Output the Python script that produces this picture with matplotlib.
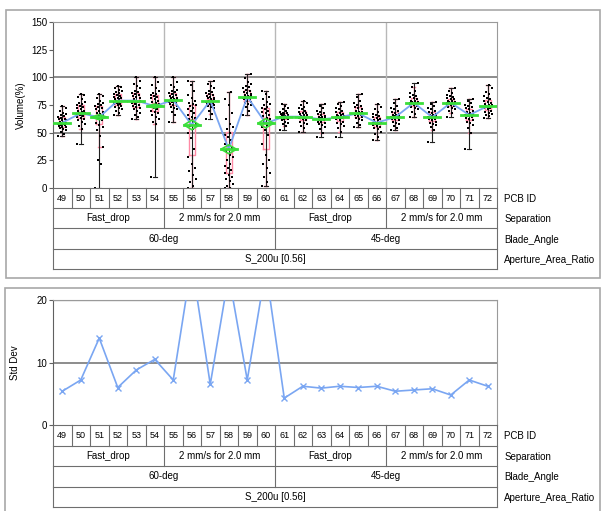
import numpy as np
import matplotlib.pyplot as plt
from matplotlib.patches import Rectangle, Polygon

plt.rcParams['font.family'] = ['Liberation Sans', 'DejaVu Sans']

# Facteurs de la carte de variabilité
pcb_ids = list(range(49, 73))
separation = ['Fast_drop', '2 mm/s for 2.0 mm', 'Fast_drop', '2 mm/s for 2.0 mm']
blade_angle = ['60-deg', '45-deg']
aperture = ['S_200u [0.56]']
row_names = ['PCB ID', 'Separation', 'Blade_Angle', 'Aperture_Area_Ratio']

# Moyennes par PCB (lignes vertes) et écarts-types (graphe du bas)
cell_means = [59, 67.5, 64, 79, 79, 74, 79.5, 57, 79, 35, 82.5, 58.5,
              64.5, 64.5, 62, 64, 67.5, 59, 64, 77, 64, 77, 66, 74]
std_dev = [5.4, 7.2, 13.9, 6.0, 8.8, 10.5, 7.2, 26, 6.5, 24, 7.2, 25,
           4.3, 6.2, 5.9, 6.2, 6.0, 6.2, 5.4, 5.6, 5.8, 4.8, 7.2, 6.2]
n_per_pcb = 140

# Volumes (%), par PCB
vol_49 = [47, 49, 51, 52, 53, 54, 55, 55, 56, 57, 57, 58, 58, 59, 59, 60, 60, 61, 61, 62, 62, 63, 64, 65, 66, 67, 68, 70, 72, 74]
vol_50 = [40, 53, 56, 58, 60, 61, 62, 63, 64, 65, 66, 66, 67, 68, 68, 69, 70, 70, 71, 72, 73, 74, 75, 76, 77, 78, 80, 82, 84, 85]
vol_51 = [0, 22, 25, 37, 47, 52, 55, 57, 59, 61, 62, 63, 64, 65, 66, 67, 68, 69, 70, 71, 72, 73, 74, 75, 76, 77, 79, 81, 83, 85]
vol_52 = [66, 68, 70, 71, 72, 73, 74, 75, 76, 76, 77, 78, 78, 79, 79, 80, 80, 81, 81, 82, 83, 84, 85, 86, 87, 88, 89, 90, 91, 92]
vol_53 = [62, 64, 66, 68, 70, 71, 72, 73, 74, 75, 76, 77, 78, 78, 79, 79, 80, 81, 82, 83, 84, 85, 86, 87, 88, 90, 92, 94, 97, 100]
vol_54 = [10, 58, 60, 62, 64, 66, 68, 69, 70, 71, 72, 73, 74, 75, 76, 77, 78, 79, 80, 81, 82, 83, 84, 85, 86, 88, 90, 93, 96, 100]
vol_55 = [60, 66, 69, 71, 72, 73, 74, 75, 76, 77, 78, 78, 79, 79, 80, 80, 81, 81, 82, 83, 84, 85, 86, 87, 88, 89, 91, 93, 96, 100]
vol_56 = [0, 2, 5, 8, 12, 15, 18, 22, 28, 35, 45, 50, 53, 56, 58, 60, 62, 63, 64, 66, 68, 70, 71, 72, 74, 75, 76, 77, 79, 81, 84, 88, 93, 97]
vol_57 = [62, 67, 70, 72, 73, 74, 75, 76, 76, 77, 78, 78, 79, 79, 80, 80, 81, 81, 82, 83, 84, 85, 86, 87, 88, 90, 92, 94, 97]
vol_58 = [0, 0, 2, 4, 6, 8, 10, 12, 14, 16, 18, 20, 22, 25, 28, 30, 33, 36, 38, 40, 43, 46, 48, 50, 53, 55, 58, 62, 68, 75, 80, 87]
vol_59 = [66, 70, 73, 75, 76, 77, 78, 79, 80, 80, 81, 81, 82, 82, 83, 83, 84, 85, 86, 87, 88, 89, 90, 91, 92, 94, 96, 99, 103]
vol_60 = [2, 5, 10, 14, 18, 22, 25, 30, 40, 48, 52, 55, 57, 60, 62, 63, 65, 66, 68, 69, 70, 71, 72, 73, 75, 76, 78, 80, 82, 85, 88]
vol_61 = [52, 56, 58, 59, 60, 61, 62, 62, 63, 63, 64, 64, 64, 65, 65, 65, 66, 66, 67, 67, 68, 68, 69, 70, 71, 72, 74, 76]
vol_62 = [51, 54, 56, 58, 59, 60, 61, 62, 63, 63, 64, 64, 65, 65, 66, 66, 67, 68, 68, 69, 70, 71, 72, 73, 75, 77, 79]
vol_63 = [46, 50, 53, 55, 57, 58, 59, 60, 60, 61, 61, 62, 62, 63, 63, 64, 64, 65, 66, 67, 68, 69, 70, 72, 74, 76]
vol_64 = [46, 51, 54, 56, 58, 59, 60, 61, 62, 63, 63, 64, 64, 65, 65, 66, 66, 67, 68, 69, 70, 71, 72, 74, 76, 78]
vol_65 = [55, 57, 59, 61, 62, 63, 64, 65, 66, 66, 67, 67, 68, 68, 69, 69, 70, 71, 72, 73, 74, 75, 77, 79, 82, 85]
vol_66 = [43, 46, 49, 51, 53, 54, 55, 56, 57, 58, 58, 59, 59, 60, 60, 61, 61, 62, 63, 64, 65, 66, 67, 69, 71, 73, 76]
vol_67 = [52, 54, 56, 58, 59, 60, 61, 62, 62, 63, 63, 64, 64, 65, 65, 66, 66, 67, 68, 69, 70, 71, 72, 74, 77, 80]
vol_68 = [64, 67, 69, 71, 72, 73, 74, 75, 75, 76, 76, 77, 77, 78, 78, 79, 79, 80, 81, 82, 83, 84, 86, 88, 91, 95]
vol_69 = [42, 52, 55, 57, 58, 59, 60, 61, 62, 62, 63, 64, 64, 65, 65, 66, 66, 67, 68, 69, 70, 71, 72, 74, 76, 78]
vol_70 = [64, 68, 70, 71, 72, 73, 74, 75, 75, 76, 76, 77, 77, 78, 78, 79, 79, 80, 80, 81, 82, 83, 84, 86, 88, 90]
vol_71 = [35, 50, 54, 57, 59, 60, 61, 62, 63, 64, 65, 66, 66, 67, 67, 68, 69, 70, 71, 72, 73, 74, 75, 77, 79, 80]
vol_72 = [63, 65, 66, 67, 68, 69, 70, 71, 72, 72, 73, 73, 74, 74, 75, 75, 76, 77, 78, 79, 80, 81, 83, 85, 87, 90, 93]

volumes = [vol_49, vol_50, vol_51, vol_52, vol_53, vol_54, vol_55, vol_56,
           vol_57, vol_58, vol_59, vol_60, vol_61, vol_62, vol_63, vol_64,
           vol_65, vol_66, vol_67, vol_68, vol_69, vol_70, vol_71, vol_72]

W, H = 603, 511
def fx(px):
    return px / W
def fy(py):
    return 1 - py / H

fig = plt.figure(figsize=(W / 100, H / 100), dpi=100)
fig.patch.set_facecolor('white')

frame_col = '#a8a8a8'
line_col = '#6e6e6e'
pink = '#ff8aa5'
green = '#3ade3a'
blue = '#7aa6f2'

# cadres extérieurs
fig.add_artist(Rectangle((fx(6), fy(278)), fx(600) - fx(6), 268 / H, fill=False,
                         edgecolor=frame_col, lw=1.2, transform=fig.transFigure))
fig.add_artist(Rectangle((fx(5), fy(520)), fx(600) - fx(5), 232 / H, fill=False,
                         edgecolor=frame_col, lw=1.2, transform=fig.transFigure))

x = np.arange(len(pcb_ids))


def style_axes(ax):
    ax.set_xlim(-0.5, len(pcb_ids) - 0.5)
    ax.set_xticks([])
    for s in ['top', 'right']:
        ax.spines[s].set_color('#9a9a9a')
    ax.spines['left'].set_color('#606060')
    ax.spines['bottom'].set_visible(False)
    ax.tick_params(axis='y', labelsize=7, length=3, width=0.8, color='#606060', pad=1)


def draw_table(ax):
    ax.set_xlim(-0.5, len(pcb_ids) - 0.5)
    ax.set_ylim(4, 0)
    ax.axis('off')
    kw = dict(color=line_col, lw=0.8, clip_on=False)
    for r in range(5):
        ax.plot([-0.5, 23.5], [r, r], **kw)
    ax.plot([-0.5, -0.5], [0, 4], **kw)
    ax.plot([23.5, 23.5], [0, 4], **kw)
    for i in range(1, 24):
        ax.plot([i - 0.5, i - 0.5], [0, 1], **kw)
    for i in (6, 12, 18):
        ax.plot([i - 0.5, i - 0.5], [1, 2], **kw)
    ax.plot([11.5, 11.5], [2, 3], **kw)
    for i, p in enumerate(pcb_ids):
        ax.text(i, 0.5, str(p), ha='center', va='center', fontsize=6.5)
    for j, s in enumerate(separation):
        ax.text(j * 6 + 2.5, 1.5, s, ha='center', va='center', fontsize=7)
    for j, b in enumerate(blade_angle):
        ax.text(j * 12 + 5.5, 2.5, b, ha='center', va='center', fontsize=7)
    ax.text(11.5, 3.5, aperture[0], ha='center', va='center', fontsize=7)
    for r, name in enumerate(row_names):
        ax.text(23.9, r + 0.55, name, ha='left', va='center', fontsize=7, clip_on=False)


# ---- graphe du haut : Volume(%)
ax1 = fig.add_axes([fx(53), fy(188), 444 / W, 166 / H])
style_axes(ax1)
ax1.set_ylim(0, 150)
ax1.set_yticks(np.arange(0, 151, 25))
for g in (50, 100):
    ax1.axhline(g, color=line_col, lw=1.1, zorder=1)
for b in (5.5, 11.5, 17.5):
    ax1.axvline(b, color='#b8b8b8', lw=1.0, zorder=1)
ax1.set_ylabel('Volume(%)', fontsize=7, labelpad=4)

# boîtes à moustaches roses
bp = ax1.boxplot(volumes, positions=x, widths=0.3, showfliers=False,
                 patch_artist=False, manage_ticks=False)
for k in ['boxes', 'whiskers', 'caps', 'medians']:
    for art in bp[k]:
        art.set_color(pink)
        art.set_linewidth(1.0)
        art.set_zorder(2)

# barres d'étendue noires
for i, v in enumerate(volumes):
    ax1.plot([i, i], [min(v), max(v)], color='#202020', lw=0.8, zorder=2)
    ax1.plot([i - 0.1, i + 0.1], [min(v), min(v)], color='#202020', lw=0.8, zorder=2)
    ax1.plot([i - 0.1, i + 0.1], [max(v), max(v)], color='#202020', lw=0.8, zorder=2)

# points bruts avec décalage horizontal
for i, v in enumerate(volumes):
    offs = np.array([((k * 7) % 11 - 5) / 22 for k in range(len(v))])
    ax1.scatter(i + offs, v, s=4.5, marker='s', color='black', lw=0, zorder=3, clip_on=False)

# ligne des moyennes
ax1.plot(x, cell_means, color=blue, lw=1.3, zorder=4)
for i, m in enumerate(cell_means):
    ax1.plot([i - 0.42, i + 0.42], [m, m], color=green, lw=2, zorder=5)
    ci = 1.96 * std_dev[i] / np.sqrt(n_per_pcb)
    if ci > 1.5:
        ax1.add_patch(Polygon([[i - 0.42, m], [i, m + ci], [i + 0.42, m], [i, m - ci]],
                              closed=True, fill=False, edgecolor=green, lw=1.2, zorder=5))

tab1 = fig.add_axes([fx(53), fy(269), 444 / W, 81 / H])
draw_table(tab1)

# ---- graphe du bas : Std Dev
ax2 = fig.add_axes([fx(53), fy(425), 444 / W, 125 / H])
style_axes(ax2)
ax2.set_ylim(0, 20)
ax2.set_yticks([0, 10, 20])
ax2.axhline(10, color=line_col, lw=1.1, zorder=1)
ax2.axhline(20, color=line_col, lw=1.6, zorder=1)
ax2.plot(x, std_dev, color=blue, lw=1.2, marker='x', markersize=5,
         markeredgewidth=1.0, zorder=3)
ax2.set_ylabel('Std Dev', fontsize=7, labelpad=12)

tab2 = fig.add_axes([fx(53), fy(507), 444 / W, 82 / H])
draw_table(tab2)

fig.savefig('out.png', dpi=100)
